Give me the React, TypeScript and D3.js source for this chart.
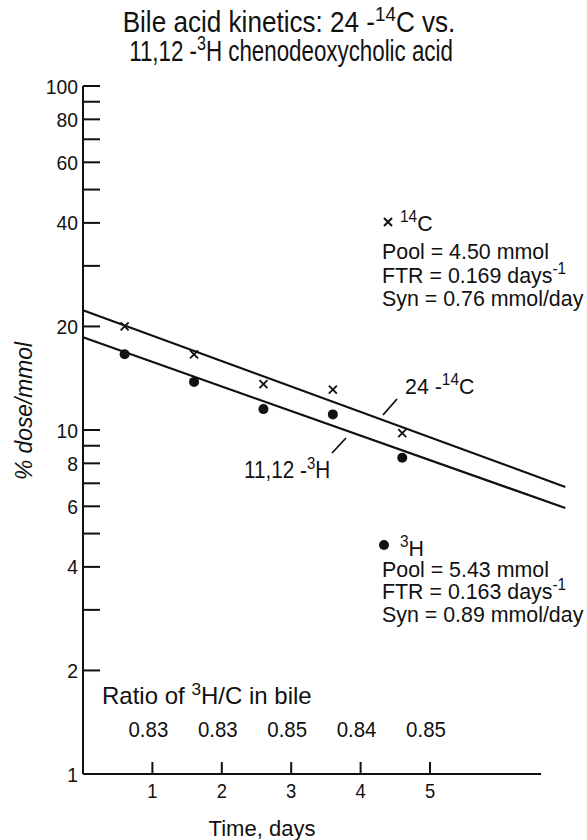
import React from 'react';
import * as d3 from 'd3';

// sampling days and measured specific activity (% dose/mmol)
const days = [0.6, 1.6, 2.6, 3.6, 4.6];
const carbonValues = [20.0, 16.6, 13.6, 13.1, 9.8];
const tritiumValues = [16.6, 13.8, 11.5, 11.1, 8.3];

// fitted decay lines (end points)
const carbonFit = [{ day: 0, value: 22.3 }, { day: 6.95, value: 6.83 }];
const tritiumFit = [{ day: 0, value: 18.6 }, { day: 6.95, value: 5.93 }];

// ratio of 3H/C in bile
const ratioDays = [1, 2, 3, 4, 5];
const ratios = ['0.83', '0.83', '0.85', '0.84', '0.85'];

const xTicks = [1, 2, 3, 4, 5];
const yTicks = [1, 2, 3, 4, 5, 6, 7, 8, 9, 10, 20, 30, 40, 50, 60, 70, 80, 90, 100];
const yLabels = [1, 2, 4, 6, 8, 10, 20, 40, 60, 80, 100];

const width = 587;
const height = 840;
const font = 'Liberation Sans, Arial, sans-serif';

const T = ({ x, y, size = 20, sx = 0.9, anchor = 'start', italic = false, rotate = 0, children }: any) => (
    <text
        transform={`translate(${x},${y}) rotate(${rotate}) scale(${sx},1)`}
        fontSize={size}
        textAnchor={anchor}
        fontStyle={italic ? 'italic' : 'normal'}
        fontFamily={font}
        fill="#111"
    >
        {children}
    </text>
);

const Sup = ({ text, size, after }: any) => (
    <>
        <tspan dy={-size * 0.38} fontSize={size * 0.72}>{text}</tspan>
        <tspan dy={size * 0.38}>{after}</tspan>
    </>
);

const App = () => {
    const x = d3.scaleLinear().domain([0, 5]).range([83, 430]);
    const y = d3.scaleLog().domain([1, 100]).range([774, 86]);

    const line = d3.line<{ day: number; value: number }>()
        .x(d => x(d.day))
        .y(d => y(d.value));

    const stroke = '#111';
    const lg = 23; // legend font size

    return (
        <svg width={width} height={height} style={{ position: 'absolute', left: 0, top: 0, background: '#fff' }}>
            {/* title */}
            <T x={289} y={32} size={29} sx={0.9} anchor="middle">
                Bile acid kinetics: 24 -<Sup text="14" size={29} after="C vs." />
            </T>
            <T x={291} y={61} size={29} sx={0.77} anchor="middle">
                11,12 -<Sup text="3" size={29} after="H chenodeoxycholic acid" />
            </T>

            {/* axes */}
            <line x1={x(0)} x2={x(0)} y1={y(100)} y2={y(1)} stroke={stroke} strokeWidth={2} />
            <line x1={x(0)} x2={x(6.6)} y1={y(1)} y2={y(1)} stroke={stroke} strokeWidth={2} />
            {yTicks.map(t => (
                <line key={t} x1={x(0)} x2={x(0) + 17} y1={y(t)} y2={y(t)} stroke={stroke} strokeWidth={2} />
            ))}
            {yLabels.map(t => (
                <T key={t} x={x(0) - 5} y={y(t) + 7.5} size={21} sx={0.92} anchor="end">{t}</T>
            ))}
            {xTicks.map(t => (
                <g key={t}>
                    <line x1={x(t)} x2={x(t)} y1={y(1)} y2={y(1) - 12} stroke={stroke} strokeWidth={2} />
                    <T x={x(t)} y={798} size={20} sx={0.92} anchor="middle">{t}</T>
                </g>
            ))}
            <T x={262} y={836} size={22} sx={1.0} anchor="middle">Time, days</T>
            <T x={32} y={411} size={24} sx={0.95} anchor="middle" italic rotate={-90}>% dose/mmol</T>

            {/* fitted lines */}
            <path d={line(carbonFit) || ''} fill="none" stroke={stroke} strokeWidth={2.2} />
            <path d={line(tritiumFit) || ''} fill="none" stroke={stroke} strokeWidth={2.2} />

            {/* data points */}
            {days.map((d, i) => {
                const cx = x(d);
                const cy = y(carbonValues[i]);
                return (
                    <path key={'c' + i}
                        d={`M${cx - 4},${cy - 4}L${cx + 4},${cy + 4}M${cx - 4},${cy + 4}L${cx + 4},${cy - 4}`}
                        stroke={stroke} strokeWidth={1.8} />
                );
            })}
            {days.map((d, i) => (
                <circle key={'h' + i} cx={x(d)} cy={y(tritiumValues[i])} r={5} fill={stroke} />
            ))}

            {/* line labels */}
            <line x1={383} y1={415} x2={397} y2={399} stroke={stroke} strokeWidth={1.8} />
            <T x={405} y={394} size={23} sx={0.93}>24 -<Sup text="14" size={23} after="C" /></T>
            <line x1={332} y1={453} x2={346} y2={438} stroke={stroke} strokeWidth={1.8} />
            <T x={244} y={478} size={23} sx={0.9}>11,12 -<Sup text="3" size={23} after="H" /></T>

            {/* 14C legend */}
            <path d="M384,218L392,226M384,226L392,218" stroke={stroke} strokeWidth={2} />
            <T x={400} y={231} size={lg} sx={0.93}><Sup text="14" size={lg} after="C" /></T>
            <T x={382} y={259} size={lg} sx={0.93}>Pool = 4.50 mmol</T>
            <T x={382} y={283} size={lg} sx={0.93}>FTR = 0.169 days<Sup text="-1" size={lg} after="" /></T>
            <T x={382} y={306} size={lg} sx={0.93}>Syn = 0.76 mmol/day</T>

            {/* 3H legend */}
            <circle cx={384} cy={545} r={5} fill={stroke} />
            <T x={400} y={556} size={lg} sx={0.93}><Sup text="3" size={lg} after="H" /></T>
            <T x={382} y={577} size={lg} sx={0.93}>Pool = 5.43 mmol</T>
            <T x={382} y={599} size={lg} sx={0.93}>FTR = 0.163 days<Sup text="-1" size={lg} after="" /></T>
            <T x={382} y={622} size={lg} sx={0.93}>Syn = 0.89 mmol/day</T>

            {/* ratio row */}
            <T x={102} y={704} size={24} sx={1.0}>Ratio of <Sup text="3" size={24} after="H/C in bile" /></T>
            {ratioDays.map((d, i) => (
                <T key={d} x={x(d) - 4} y={737} size={22} sx={0.93} anchor="middle">{ratios[i]}</T>
            ))}
        </svg>
    );
};

export default App;
